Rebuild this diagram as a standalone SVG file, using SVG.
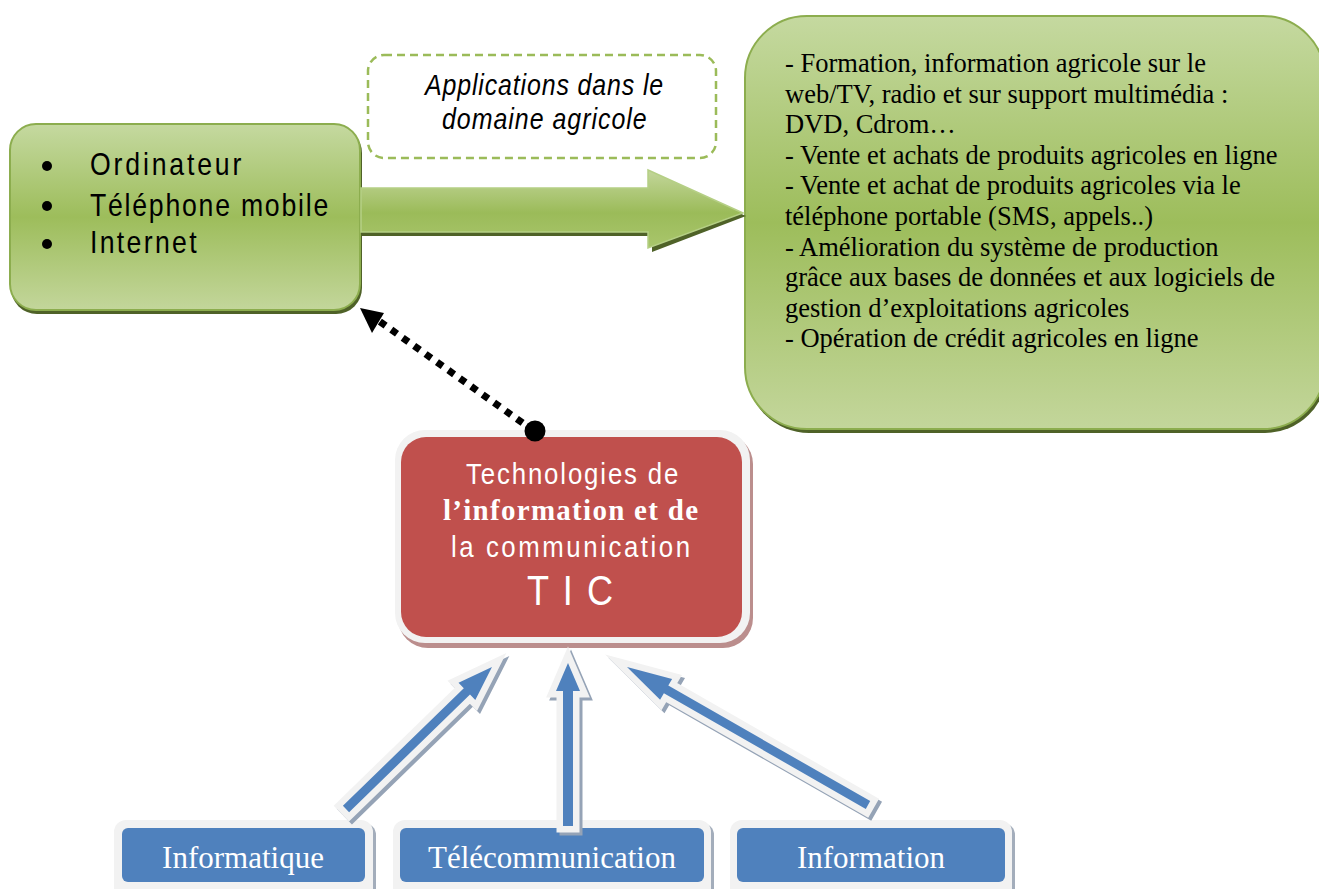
<svg xmlns="http://www.w3.org/2000/svg" width="1319" height="889" viewBox="0 0 1319 889">
<defs>
<linearGradient id="gGreen" x1="0" y1="0" x2="0" y2="1">
<stop offset="0" stop-color="#c5d9a0"/>
<stop offset="0.5" stop-color="#9dbd5b"/>
<stop offset="1" stop-color="#c3d69b"/>
</linearGradient>
<linearGradient id="gArrow" x1="0" y1="0" x2="0" y2="1">
<stop offset="0" stop-color="#c3d69b"/>
<stop offset="0.55" stop-color="#9bbb59"/>
<stop offset="1" stop-color="#a9c66c"/>
</linearGradient>
<style>
.narrow{font-family:"Liberation Sans",Arial,sans-serif;}
.serif{font-family:"Liberation Serif","Times New Roman",serif;}
.blk{fill:#000;}
.wht{fill:#fff;}
.greenbox{fill:url(#gGreen);stroke:#8cad4e;stroke-width:2;}
.greenshadow{fill:#4f6228;}
.ba{fill:#4f81bd;stroke:#f2f2f2;stroke-width:13;stroke-linejoin:miter;stroke-miterlimit:6;paint-order:stroke fill;}
.bas{fill:#95a3b6;stroke:#95a3b6;stroke-width:13;stroke-linejoin:miter;stroke-miterlimit:6;}
.outer{fill:#f2f2f2;}
.bshadow{fill:#a3adbb;}
.blue{fill:#4f81bd;}
.btxt{font-family:"Liberation Serif","Times New Roman",serif;font-size:31px;fill:#fff;text-anchor:middle;}
.rtxt{font-family:"Liberation Serif","Times New Roman",serif;font-size:26.5px;fill:#000;}
</style>
</defs>

<g id="node-devices">
<rect x="11" y="127" width="351" height="187" rx="26" class="greenshadow"/>
<rect x="10" y="124" width="350" height="186" rx="26" class="greenbox"/>
<circle cx="47" cy="166" r="5" class="blk"/>
<circle cx="47" cy="206" r="5" class="blk"/>
<circle cx="47" cy="244" r="5" class="blk"/>
<text class="narrow blk" transform="translate(90,175) scale(0.86,1)" font-size="31" textLength="176" lengthAdjust="spacing">Ordinateur</text>
<text class="narrow blk" transform="translate(90,216) scale(0.86,1)" font-size="31" textLength="277" lengthAdjust="spacing">Téléphone mobile</text>
<text class="narrow blk" transform="translate(90,253) scale(0.86,1)" font-size="31" textLength="124" lengthAdjust="spacing">Internet</text>
</g>

<g id="node-label">
<rect x="368" y="55" width="348" height="103" rx="16" fill="#fff" stroke="#9bbb59" stroke-width="2.5" stroke-dasharray="8 5"/>
<text class="narrow blk" transform="translate(425,95) scale(0.86,1)" font-size="29" font-style="italic" textLength="277" lengthAdjust="spacing">Applications dans le</text>
<text class="narrow blk" transform="translate(442,129) scale(0.86,1)" font-size="29" font-style="italic" textLength="238" lengthAdjust="spacing">domaine agricole</text>
</g>

<g id="node-applications">
<rect x="747" y="19" width="580" height="414" rx="62" class="greenshadow"/>
<rect x="745" y="16" width="580" height="413" rx="62" class="greenbox"/>
<text class="rtxt" x="785" y="72">- Formation, information agricole sur le</text>
<text class="rtxt" x="785" y="102.6">web/TV, radio et sur support multimédia :</text>
<text class="rtxt" x="785" y="133.2">DVD, Cdrom…</text>
<text class="rtxt" x="785" y="163.8">- Vente et achats de produits agricoles en ligne</text>
<text class="rtxt" x="785" y="194.4">- Vente et achat de produits agricoles via le</text>
<text class="rtxt" x="785" y="225">téléphone portable (SMS, appels..)</text>
<text class="rtxt" x="785" y="255.6">- Amélioration du système de production</text>
<text class="rtxt" x="785" y="286.2">grâce aux bases de données et aux logiciels de</text>
<text class="rtxt" x="785" y="316.8">gestion d’exploitations agricoles</text>
<text class="rtxt" x="785" y="347.4">- Opération de crédit agricoles en ligne</text>
</g>

<g id="node-tic">
<rect x="398" y="434" width="355" height="214" rx="30" fill="#bb8e8d"/>
<rect x="395" y="430" width="355" height="213" rx="30" class="outer"/>
<rect x="401" y="437" width="341" height="200" rx="25" fill="#c0504d"/>
<text class="narrow wht" transform="translate(466,484) scale(0.86,1)" font-size="30" textLength="247" lengthAdjust="spacing">Technologies de</text>
<text class="serif wht" x="443" y="520" font-size="29" font-weight="bold" textLength="255" lengthAdjust="spacing">l’information et de</text>
<text class="narrow wht" transform="translate(451,557) scale(0.86,1)" font-size="30" textLength="278" lengthAdjust="spacing">la communication</text>
<text class="narrow wht" transform="translate(527,605) scale(0.86,1)" font-size="42" textLength="100" lengthAdjust="spacing">T I C</text>
</g>

<g id="node-informatique">
<rect x="117" y="823" width="259" height="80" rx="12" class="bshadow"/>
<rect x="114" y="820" width="259" height="80" rx="12" class="outer"/>
<rect x="122" y="828" width="243" height="54" rx="6" class="blue"/>
<text class="btxt" x="243" y="868">Informatique</text>
</g>

<g id="node-telecom">
<rect x="396" y="823" width="318" height="80" rx="12" class="bshadow"/>
<rect x="393" y="820" width="318" height="80" rx="12" class="outer"/>
<rect x="400" y="828" width="304" height="54" rx="6" class="blue"/>
<text class="btxt" x="552" y="868">Télécommunication</text>
</g>

<g id="node-information">
<rect x="733" y="823" width="282" height="80" rx="12" class="bshadow"/>
<rect x="730" y="820" width="282" height="80" rx="12" class="outer"/>
<rect x="737" y="828" width="268" height="54" rx="6" class="blue"/>
<text class="btxt" x="871" y="868">Information</text>
</g>

<g id="connectors">
<g id="arrow-green">
<path d="M361,192 L650,192 L650,174 L746,216 L652,252 L652,236 L361,236 z" fill="#4f6228"/>
<path d="M361,188 L648,188 L648,170 L743,213 L648,248 L648,232 L361,232 z" fill="url(#gArrow)" stroke="#b5cf85" stroke-width="1.5"/>
</g>
<g id="arrow-dotted">
<line x1="534" y1="431" x2="372" y2="316" stroke="#000" stroke-width="7" stroke-dasharray="7 7"/>
<polygon points="360,308 384,313 372,333" fill="#000"/>
<circle cx="535" cy="431" r="10.5" fill="#000"/>
</g>
<g id="arrow-1">
<polygon class="bas" transform="translate(3,3)" points="492,667 475.3,700 470,694.6 349.1,812.2 342.9,805.8 463.8,688.2 458.5,682.8"/>
<polygon class="ba" points="492,667 475.3,700 470,694.6 349.1,812.2 342.9,805.8 463.8,688.2 458.5,682.8"/>
</g>
<g id="arrow-2">
<polygon class="bas" transform="translate(3,3)" points="568,663 580,691 573,691 573,826 563,826 563,691 556,691"/>
<polygon class="ba" points="568,663 580,691 573,691 573,826 563,826 563,691 556,691"/>
</g>
<g id="arrow-3">
<polygon class="bas" transform="translate(3,3)" points="627,667 672.1,679 668.3,685.5 870.2,801.1 865.8,808.9 663.9,693.3 660.1,699.8"/>
<polygon class="ba" points="627,667 672.1,679 668.3,685.5 870.2,801.1 865.8,808.9 663.9,693.3 660.1,699.8"/>
</g>
</g>
</svg>
